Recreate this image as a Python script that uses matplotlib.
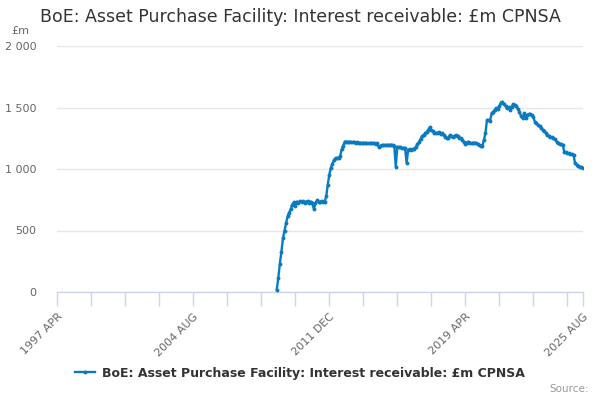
import matplotlib
matplotlib.use("Agg")
import matplotlib.pyplot as plt
import numpy as np

# ---- data (monthly, £m) ----
axis_start = (1997, 4)      # first category on the axis: 1997 APR
axis_end = (2025, 8)        # last category on the axis: 2025 AUG
series_start = (2009, 2)    # first observation

v2009 = [20, 116, 230, 326, 436, 498, 560, 614, 646, 674, 709]           # Feb-Dec
v2010 = [728, 700, 735, 725, 740, 730, 738, 725, 735, 740, 725, 735]
v2011 = [720, 675, 720, 745, 735, 730, 740, 728, 735, 777, 873, 955]
v2012 = [1010, 1043, 1070, 1090, 1086, 1090, 1105, 1160, 1190, 1223, 1222, 1220]
v2013 = [1222, 1220, 1218, 1220, 1215, 1216, 1212, 1214, 1210, 1212, 1213, 1210]
v2014 = [1210, 1208, 1212, 1210, 1208, 1206, 1208, 1178, 1190, 1192, 1195, 1195]
v2015 = [1195, 1196, 1195, 1197, 1195, 1190, 1020, 1180, 1178, 1175, 1170, 1172]
v2016 = [1170, 1050, 1155, 1160, 1158, 1162, 1165, 1180, 1200, 1220, 1245, 1265]
v2017 = [1275, 1290, 1300, 1317, 1339, 1317, 1305, 1290, 1292, 1295, 1300, 1288]
v2018 = [1290, 1275, 1263, 1255, 1250, 1276, 1270, 1263, 1270, 1276, 1265, 1255]
v2019 = [1248, 1235, 1222, 1203, 1215, 1222, 1215, 1209, 1212, 1214, 1210, 1205]
v2020 = [1198, 1190, 1187, 1236, 1290, 1398, 1398, 1393, 1452, 1466, 1480, 1493]
v2021 = [1485, 1510, 1540, 1547, 1528, 1512, 1493, 1501, 1480, 1507, 1528, 1520]
v2022 = [1512, 1490, 1466, 1430, 1412, 1452, 1412, 1439, 1447, 1447, 1440, 1420]
v2023 = [1385, 1371, 1358, 1348, 1335, 1320, 1308, 1295, 1276, 1268, 1262, 1257]
v2024 = [1249, 1241, 1222, 1214, 1205, 1200, 1196, 1141, 1135, 1130, 1127, 1124]
v2025 = [1120, 1114, 1046, 1033, 1024, 1019, 1014, 1011]                   # Jan-Aug

tick_labels = ["1997 APR", "2004 AUG", "2011 DEC", "2019 APR", "2025 AUG"]
y_ticks = [0, 500, 1000, 1500, 2000]
y_tick_labels = ["0", "500", "1 000", "1 500", "2 000"]

values = (v2009 + v2010 + v2011 + v2012 + v2013 + v2014 + v2015 + v2016 +
          v2017 + v2018 + v2019 + v2020 + v2021 + v2022 + v2023 + v2024 + v2025)

def month_index(ym):
    return (ym[0] - axis_start[0]) * 12 + (ym[1] - axis_start[1])

n_axis = month_index(axis_end)
first = month_index(series_start)
x = np.arange(first, first + len(values))

COLOR = "#0b7bc1"
plt.rcParams['font.family'] = ['DejaVu Sans']

fig = plt.figure(figsize=(6, 4), dpi=100)
ax = fig.add_axes([57.3 / 600, 1 - 292 / 400, (582.8 - 57.3) / 600, 246 / 400])

ax.plot(x, values, color=COLOR, lw=1.7, marker='o', ms=2.8, mew=0,
        solid_joinstyle='round', zorder=3)

ax.set_xlim(0, n_axis)
ax.set_ylim(0, 2000)

# x ticks every 22 months plus the last category
step = 22
minor_pos = list(range(0, n_axis + 1, step))
if minor_pos[-1] != n_axis:
    minor_pos.append(n_axis)
major_pos = [0, 88, 176, 264, n_axis]
ax.set_xticks(minor_pos)
ax.set_xticklabels([tick_labels[major_pos.index(p)] if p in major_pos else "" for p in minor_pos],
                   rotation=45, ha='right', va='top', rotation_mode='anchor',
                   fontsize=8, color='#666666')
ax.tick_params(axis='x', length=10, width=1, color='#ccd6eb', pad=4)

ax.set_yticks(y_ticks)
ax.set_yticklabels(y_tick_labels, fontsize=8, color='#666666')
ax.tick_params(axis='y', length=0, pad=15)

ax.grid(axis='y', color='#e6e6e6', lw=1)
ax.set_axisbelow(True)
for s in ['top', 'right', 'left']:
    ax.spines[s].set_visible(False)
ax.spines['bottom'].set_color('#ccd6eb')
ax.spines['bottom'].set_linewidth(1)

fig.text(0.5, 1 - 17 / 400, "BoE: Asset Purchase Facility: Interest receivable: £m CPNSA",
         ha='center', va='center', fontsize=12.5, color='#333333')
fig.text(11 / 600, 1 - 31 / 400, "£m", ha='left', va='center', fontsize=8, color='#666666')

# legend
from matplotlib.lines import Line2D
handle = Line2D([], [], color=COLOR, lw=1.7, marker='o', ms=2.8, mew=0)
fig.legend([handle], ["BoE: Asset Purchase Facility: Interest receivable: £m CPNSA"],
           loc='center', bbox_to_anchor=(0.5, 1 - 373 / 400), frameon=False,
           prop={'size': 9, 'weight': 'bold'}, labelcolor='#333333',
           handlelength=1.6, handletextpad=0.5)

fig.text(589 / 600, 1 - 389 / 400, "Source:", ha='right', va='center', fontsize=7.5, color='#999999')

fig.savefig("out.png", dpi=100)
